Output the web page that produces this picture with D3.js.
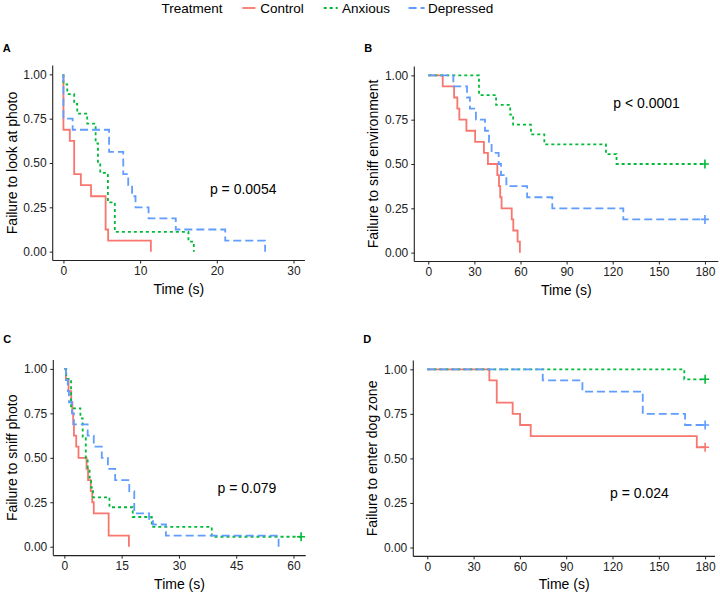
<!DOCTYPE html>
<html>
<head>
<meta charset="utf-8">
<script src="https://cdn.jsdelivr.net/npm/d3@7"></script>
<style>
  body { margin: 0; background: #fff; }
  svg { font-family: "Liberation Sans", Arial, sans-serif; }
</style>
</head>
<body>
<svg id="chart" width="720" height="594"></svg>
<script>
// treatment groups, in drawing order
var groups = ["Control", "Anxious", "Depressed"];
var groupColors = ["#F8766D", "#00BA38", "#619CFF"];
var groupDash = [null, "3,3", "8,4"];

// step points [time, survival]
// A - look at photo
var A_control = [[0,1],[0,0.6875],[0.83,0.625],[1.4,0.4375],[2.27,0.375],[3.6,0.3125],[5.5,0.125],[5.83,0.0625],[11.4,0]];
var A_anxious = [[0,1],[0,0.944],[0.5,0.889],[1.4,0.833],[1.8,0.778],[3.1,0.722],[4.2,0.611],[4.5,0.5],[4.8,0.444],[5.8,0.278],[6.7,0.111],[16.3,0.056],[17.0,0]];
var A_depressed = [[0,1],[0,0.75],[1.2,0.6875],[5.95,0.5625],[7.8,0.4375],[8.45,0.375],[8.95,0.3125],[9.4,0.25],[11.1,0.1875],[14.65,0.125],[21.1,0.0625],[26.3,0]];
// B - sniff environment
var B_control = [[0,1],[9.4,0.9375],[16.8,0.875],[18.9,0.8125],[20.2,0.75],[24.8,0.6875],[30.5,0.625],[36.2,0.5625],[38.8,0.5],[44.9,0.4375],[46,0.375],[46.8,0.3125],[47.7,0.25],[54.3,0.1875],[55.3,0.125],[58.1,0.0625],[59.6,0]];
var B_anxious = [[0,1],[33,0.889],[44.1,0.833],[53.3,0.778],[55.2,0.722],[66.8,0.667],[75.5,0.611],[115.6,0.556],[122.5,0.5],[180,0.5]];
var B_depressed = [[0,1],[16.3,0.9375],[25.2,0.875],[27.1,0.8125],[31,0.75],[36.9,0.6875],[39.5,0.625],[41.2,0.5625],[45.8,0.5],[47.3,0.4375],[50.8,0.375],[64.3,0.3125],[80.7,0.25],[126.9,0.1875],[180,0.1875]];
// C - sniff photo
var C_control = [[0,1],[0.4,0.9375],[1.1,0.875],[1.8,0.8125],[2.1,0.75],[2.3,0.6875],[2.5,0.625],[3.1,0.5625],[3.7,0.5],[5.8,0.4375],[6.2,0.375],[6.9,0.3125],[7.3,0.25],[7.7,0.1875],[11.6,0.0625],[16.9,0]];
var C_anxious = [[0,1],[0.5,0.944],[1.75,0.778],[4.2,0.722],[4.8,0.611],[5.6,0.5],[6.1,0.444],[6.6,0.389],[7.0,0.333],[7.5,0.278],[11.8,0.222],[17.9,0.167],[22.9,0.111],[38.6,0.056],[62,0.056]];
var C_depressed = [[0,1],[0.4,0.9375],[0.9,0.875],[1.2,0.8125],[2.0,0.75],[2.5,0.6875],[6.1,0.625],[7.7,0.5625],[9.8,0.5],[11.4,0.4375],[13.3,0.375],[17.0,0.3125],[18.3,0.1875],[22.2,0.156],[23.2,0.125],[26.6,0.0625],[56.1,0]];
// D - enter dog zone
var D_control = [[0,1],[40.2,0.9375],[45,0.8125],[55.3,0.75],[60.1,0.6875],[67,0.625],[174.6,0.5625],[180,0.5625]];
var D_anxious = [[0,1],[166.5,0.944],[180,0.944]];
var D_depressed = [[0,1],[74.8,0.9375],[100.5,0.875],[139.6,0.75],[167,0.6875],[180,0.6875]];

// censored ends [group index, time, survival]
var B_censor = [[1,180,0.5],[2,180,0.1875]];
var C_censor = [[1,62,0.056]];
var D_censor = [[0,180,0.5625],[1,180,0.944],[2,180,0.6875]];

var yTicks = [0, 0.25, 0.5, 0.75, 1];
var A_xTicks = [0, 10, 20, 30];
var B_xTicks = [0, 30, 60, 90, 120, 150, 180];
var C_xTicks = [0, 15, 30, 45, 60];
var D_xTicks = [0, 30, 60, 90, 120, 150, 180];

var panels = [
    { tag: "A", ylab: "Failure to look at photo", series: [A_control, A_anxious, A_depressed], censor: [],
      xTicks: A_xTicks, xDomain: [-1.4, 31.5], x0: 52.7, x1: 305, y0: 65.5, y1: 260.5,
      pval: "p = 0.0054", pAt: [19.1, 0.35], tagY: 52 },
    { tag: "B", ylab: "Failure to sniff environment", series: [B_control, B_anxious, B_depressed], censor: B_censor,
      xTicks: B_xTicks, xDomain: [-9.1, 188.7], x0: 414.3, x1: 718.3, y0: 66.5, y1: 261.5,
      pval: "p < 0.0001", pAt: [120.4, 0.845], tagY: 52 },
    { tag: "C", ylab: "Failure to sniff photo", series: [C_control, C_anxious, C_depressed], censor: C_censor,
      xTicks: C_xTicks, xDomain: [-2.9, 63.2], x0: 53.3, x1: 305.7, y0: 360, y1: 555.6,
      pval: "p = 0.079", pAt: [40.1, 0.33], tagY: 343 },
    { tag: "D", ylab: "Failure to enter dog zone", series: [D_control, D_anxious, D_depressed], censor: D_censor,
      xTicks: D_xTicks, xDomain: [-9.07, 186.4], x0: 413.3, x1: 715, y0: 360.4, y1: 556.4,
      pval: "p = 0.024", pAt: [118.4, 0.308], tagY: 343 }
];

var svg = d3.select("#chart");

panels.forEach(function(p) {
    var x = d3.scaleLinear().domain(p.xDomain).range([p.x0, p.x1]);
    var y = d3.scaleLinear().domain([-0.05, 1.05]).range([p.y1, p.y0]);
    var g = svg.append("g");

    // axes
    var ax = g.append("g")
        .attr("transform", "translate(0," + p.y1 + ")")
        .call(d3.axisBottom(x).tickValues(p.xTicks).tickSize(3).tickPadding(3).tickFormat(d3.format("d")));
    var ay = g.append("g")
        .attr("transform", "translate(" + p.x0 + ",0)")
        .call(d3.axisLeft(y).tickValues(yTicks).tickSize(3).tickPadding(3).tickFormat(d3.format(".2f")));
    [ax, ay].forEach(function(a) {
        a.select(".domain").attr("stroke", "#222").attr("stroke-width", 1.1)
            .attr("d", a === ax ? "M" + p.x0 + ",0H" + p.x1 : "M0," + p.y0 + "V" + p.y1);
        a.selectAll(".tick line").attr("stroke", "#222");
        a.selectAll(".tick text").attr("fill", "#222").style("font-size", "12px");
    });

    // axis titles
    g.append("text")
        .attr("x", (p.x0 + p.x1) / 2).attr("y", p.y1 + 33)
        .attr("text-anchor", "middle").style("font-size", "14px")
        .text("Time (s)");
    g.append("text")
        .attr("transform", "translate(" + (p.x0 - 41) + "," + (p.y0 + p.y1) / 2 + ") rotate(-90)")
        .attr("text-anchor", "middle").attr("dy", "0.35em").style("font-size", "14px")
        .text(p.ylab);

    // panel tag
    g.append("text")
        .attr("x", p.x0 - 50).attr("y", p.tagY)
        .style("font-size", "11px").style("font-weight", "bold")
        .text(p.tag);

    // survival curves
    var line = d3.line()
        .x(function(d) { return x(d[0]); })
        .y(function(d) { return y(d[1]); })
        .curve(d3.curveStepAfter);

    p.series.forEach(function(s, i) {
        g.append("path")
            .attr("d", line(s))
            .attr("fill", "none")
            .attr("stroke", groupColors[i])
            .attr("stroke-width", 1.8)
            .attr("stroke-dasharray", groupDash[i]);
    });

    // censor marks
    p.censor.forEach(function(c) {
        var cx = x(c[1]), cy = y(c[2]);
        g.append("path")
            .attr("d", "M" + (cx - 4) + "," + cy + "H" + (cx + 4) + "M" + cx + "," + (cy - 4.5) + "V" + (cy + 4.5))
            .attr("stroke", groupColors[c[0]])
            .attr("stroke-width", 1.6)
            .attr("fill", "none");
    });

    // p value
    g.append("text")
        .attr("x", x(p.pAt[0])).attr("y", y(p.pAt[1]))
        .attr("dy", "0.35em").style("font-size", "14px")
        .text(p.pval);
});

// legend
var legend = svg.append("g").style("font-size", "13.5px");
legend.append("text")
    .attr("x", 161.6).attr("y", 12.8)
    .text("Treatment");

var keyX = [242.4, 323.7, 408.6];
var keyLen = [13, 14, 16];
var labelX = [260.3, 342, 427.9];

groups.forEach(function(name, i) {
    legend.append("line")
        .attr("x1", keyX[i]).attr("x2", keyX[i] + keyLen[i])
        .attr("y1", 8).attr("y2", 8)
        .attr("stroke", groupColors[i])
        .attr("stroke-width", 1.8)
        .attr("stroke-dasharray", groupDash[i]);
    legend.append("text")
        .attr("x", labelX[i]).attr("y", 12.8)
        .text(name);
});
</script>
</body>
</html>
